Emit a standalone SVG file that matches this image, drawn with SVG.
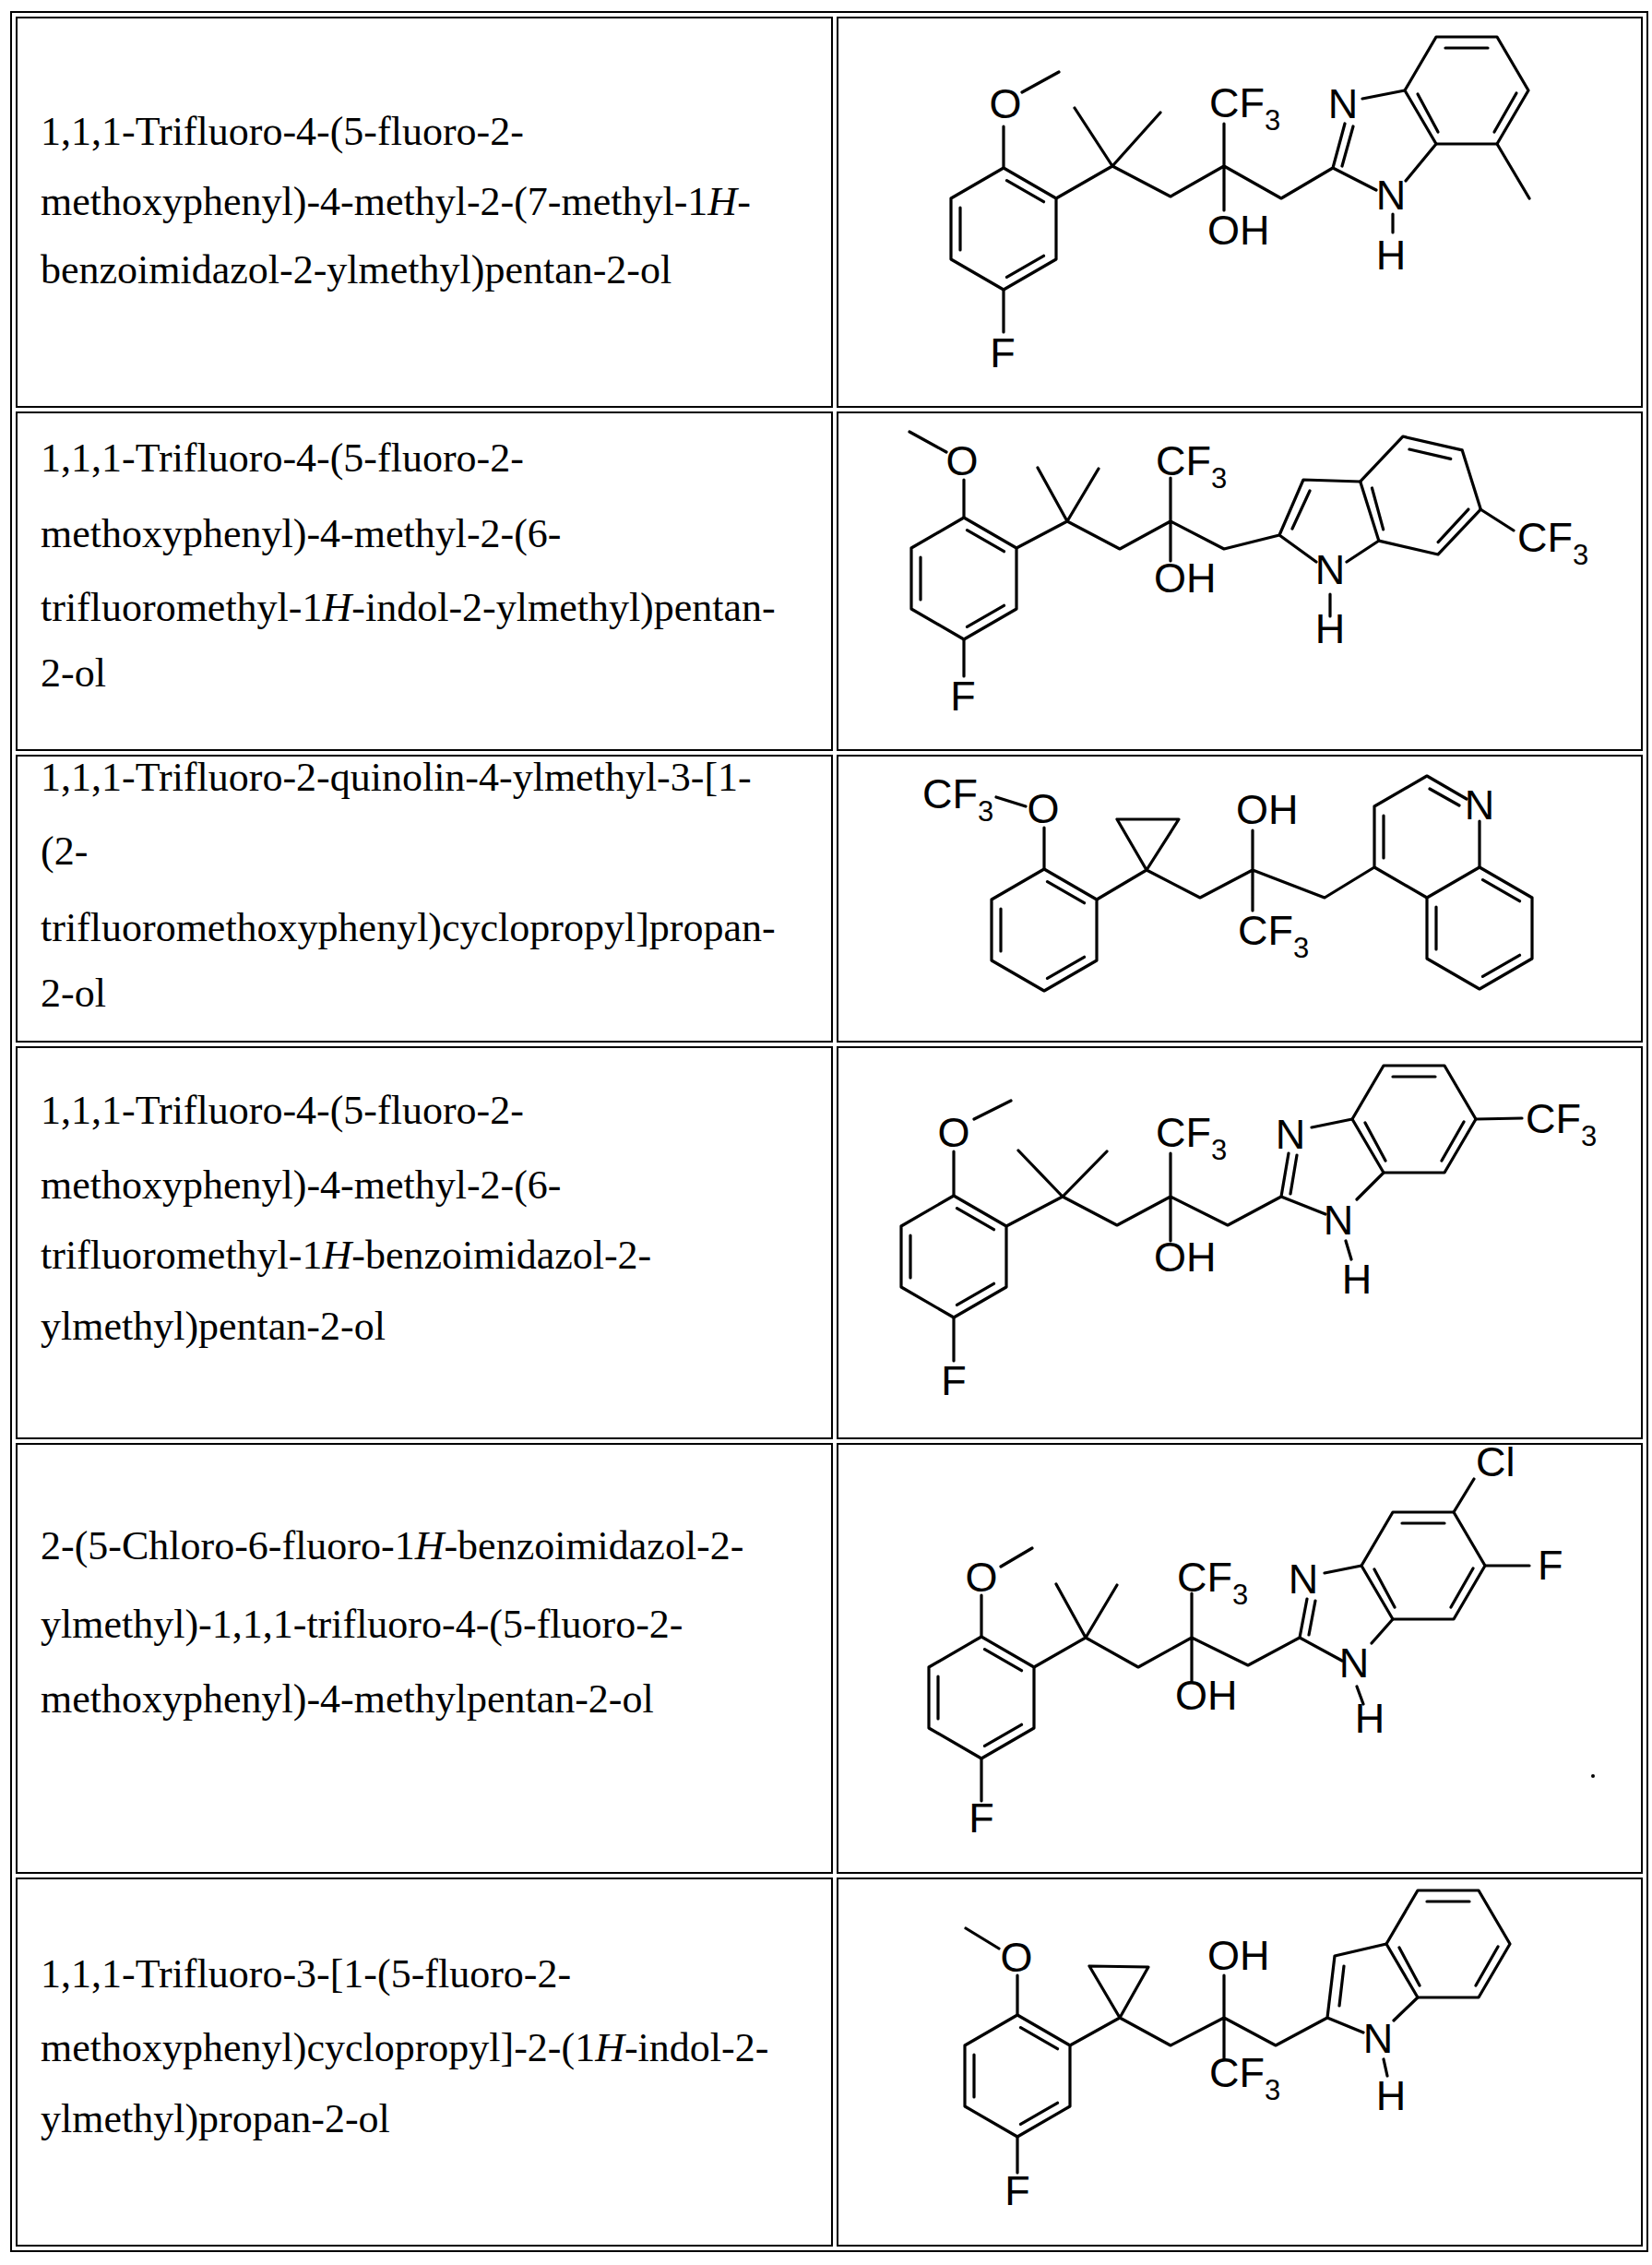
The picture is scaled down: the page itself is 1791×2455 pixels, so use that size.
<svg xmlns="http://www.w3.org/2000/svg" width="1791" height="2455" viewBox="0 0 1791 2455">
<style>
.b{fill:none;stroke:#000;stroke-width:3.2;stroke-linecap:round;stroke-linejoin:round}
.cell{fill:none;stroke:#000;stroke-width:2}
.n{font-family:"Liberation Serif","Times New Roman",serif;font-size:44px;fill:#000}
.a{font-family:"Liberation Sans",Arial,sans-serif;font-size:45px;fill:#000}
.m{text-anchor:middle}
.s{font-size:31px}
</style>
<defs>
<g id="ph" class="b"><polygon points="0,-66 57,-33 57,33 0,66 -57,33 -57,-33"/><path d="M3.5,-52.4L43.5,-29.3M-47,-23L-47,23M3.5,52.4L43.5,29.3"/></g>
<g id="bz" class="b"><polygon points="-67,0 -33,-58 33,-58 67,0 33,58 -33,58"/><path d="M-23,-46L23,-46M54,3L30,45M-53,4L-31,45"/></g>
</defs>
<rect width="1791" height="2455" fill="#fff"/>
<g id="table">
<rect class="cell" x="12" y="13" width="1774" height="2427"/>
<rect class="cell" x="18" y="19" width="884" height="422"/><rect class="cell" x="908" y="19" width="872" height="422"/>
<rect class="cell" x="18" y="447" width="884" height="366"/><rect class="cell" x="908" y="447" width="872" height="366"/>
<rect class="cell" x="18" y="819" width="884" height="310"/><rect class="cell" x="908" y="819" width="872" height="310"/>
<rect class="cell" x="18" y="1135" width="884" height="424"/><rect class="cell" x="908" y="1135" width="872" height="424"/>
<rect class="cell" x="18" y="1565" width="884" height="465"/><rect class="cell" x="908" y="1565" width="872" height="465"/>
<rect class="cell" x="18" y="2036" width="884" height="398"/><rect class="cell" x="908" y="2036" width="872" height="398"/>
</g>
<g id="names" class="n">
<text x="44" y="157">1,1,1-Trifluoro-4-(5-fluoro-2-</text>
<text x="44" y="233">methoxyphenyl)-4-methyl-2-(7-methyl-1<tspan font-style="italic">H</tspan>-</text>
<text x="44" y="307">benzoimidazol-2-ylmethyl)pentan-2-ol</text>
<text x="44" y="511">1,1,1-Trifluoro-4-(5-fluoro-2-</text>
<text x="44" y="593">methoxyphenyl)-4-methyl-2-(6-</text>
<text x="44" y="673">trifluoromethyl-1<tspan font-style="italic">H</tspan>-indol-2-ylmethyl)pentan-</text>
<text x="44" y="744">2-ol</text>
<text x="44" y="857">1,1,1-Trifluoro-2-quinolin-4-ylmethyl-3-[1-</text>
<text x="44" y="937">(2-</text>
<text x="44" y="1020">trifluoromethoxyphenyl)cyclopropyl]propan-</text>
<text x="44" y="1091">2-ol</text>
<text x="44" y="1218">1,1,1-Trifluoro-4-(5-fluoro-2-</text>
<text x="44" y="1299">methoxyphenyl)-4-methyl-2-(6-</text>
<text x="44" y="1375">trifluoromethyl-1<tspan font-style="italic">H</tspan>-benzoimidazol-2-</text>
<text x="44" y="1452">ylmethyl)pentan-2-ol</text>
<text x="44" y="1690">2-(5-Chloro-6-fluoro-1<tspan font-style="italic">H</tspan>-benzoimidazol-2-</text>
<text x="44" y="1775">ylmethyl)-1,1,1-trifluoro-4-(5-fluoro-2-</text>
<text x="44" y="1856">methoxyphenyl)-4-methylpentan-2-ol</text>
<text x="44" y="2154">1,1,1-Trifluoro-3-[1-(5-fluoro-2-</text>
<text x="44" y="2234">methoxyphenyl)cyclopropyl]-2-(1<tspan font-style="italic">H</tspan>-indol-2-</text>
<text x="44" y="2311">ylmethyl)propan-2-ol</text>
</g>
<g id="mol1">
<use href="#ph" x="1088" y="248"/><use href="#bz" x="1590" y="98"/>
<path class="b" d="M1088,182L1088,137M1108,100L1148,78M1088,314L1088,360M1145,215L1206,180L1269,213L1327,180L1389,215L1445,182M1206,180L1165,117M1206,180L1258,122M1327,180L1327,134M1327,180L1327,228M1445,182L1458,134M1455,180L1467,137M1445,182L1492,206M1510,232L1510,252M1524,196L1557,156M1477,107L1523,98M1623,156L1658,215"/>
<g class="a"><text class="m" x="1090" y="128">O</text><text class="m" x="1087" y="398">F</text><text x="1311" y="127">CF<tspan class="s" dy="14">3</tspan></text><text x="1309" y="265">OH</text><text class="m" x="1456" y="128">N</text><text class="m" x="1508" y="227">N</text><text class="m" x="1508" y="292">H</text></g>
</g>
<g id="mol2">
<use href="#ph" x="1045" y="627"/><use href="#bz" transform="translate(1540,537) rotate(13)"/>
<path class="b" d="M1045,561L1045,520M1026,490L986,468M1045,693L1045,733M1102,594L1157,565L1214,595L1269,565L1327,595L1387,580M1157,565L1125,507M1157,565L1191,508M1269,565L1269,518M1269,565L1269,608M1387,580L1413,520L1475,522M1401,573L1420,532M1387,580L1427,609M1495,586L1460,609M1442,644L1442,668M1605,552L1641,575"/>
<g class="a"><text class="m" x="1043" y="515">O</text><text class="m" x="1044" y="770">F</text><text x="1253" y="515">CF<tspan class="s" dy="14">3</tspan></text><text x="1251" y="642">OH</text><text class="m" x="1442" y="633">N</text><text class="m" x="1442" y="697">H</text><text x="1645" y="598">CF<tspan class="s" dy="14">3</tspan></text></g>
</g>
<g id="mol3">
<use href="#ph" x="1132" y="1008"/><use href="#ph" x="1604" y="1006"/>
<path class="b" d="M1132,942L1132,897M1080,864L1112,874M1189,975L1243,943M1243,943L1211,888L1278,888Z M1243,943L1301,973L1358,943L1436,973L1490,940L1547,973M1358,943L1358,900M1358,943L1358,987M1490,940L1490,874L1547,841L1590,866M1604,890L1604,940M1500,884L1500,930M1550,855L1582,873"/>
<g class="a"><text x="1000" y="876">CF<tspan class="s" dy="14">3</tspan></text><text class="m" x="1131" y="892">O</text><text x="1340" y="893">OH</text><text x="1342" y="1024">CF<tspan class="s" dy="14">3</tspan></text><text class="m" x="1604" y="888">N</text></g>
</g>
<g id="mol4">
<use href="#ph" x="1034" y="1362"/><use href="#bz" x="1533" y="1213"/>
<path class="b" d="M1034,1296L1034,1248M1056,1213L1096,1193M1034,1428L1034,1475M1091,1329L1152,1297L1211,1328L1269,1297L1331,1328L1389,1297M1152,1297L1104,1247M1152,1297L1200,1248M1269,1297L1269,1250M1269,1297L1269,1345M1389,1297L1397,1250M1399,1294L1406,1252M1422,1222L1466,1213M1389,1297L1437,1316M1471,1300L1500,1271M1459,1345L1465,1365M1600,1213L1650,1212"/>
<g class="a"><text class="m" x="1034" y="1243">O</text><text class="m" x="1034" y="1512">F</text><text x="1253" y="1243">CF<tspan class="s" dy="14">3</tspan></text><text x="1251" y="1378">OH</text><text class="m" x="1399" y="1245">N</text><text class="m" x="1451" y="1338">N</text><text class="m" x="1471" y="1402">H</text><text x="1654" y="1228">CF<tspan class="s" dy="14">3</tspan></text></g>
</g>
<g id="mol5">
<use href="#ph" x="1064" y="1840"/><use href="#bz" x="1543" y="1697"/>
<path class="b" d="M1064,1774L1064,1729M1085,1698L1119,1678M1064,1906L1064,1952M1121,1807L1177,1775L1234,1807L1292,1775L1353,1805L1409,1775M1177,1775L1145,1717M1177,1775L1211,1718M1292,1775L1292,1727M1292,1775L1292,1822M1409,1775L1417,1733M1419,1772L1426,1735M1436,1705L1476,1697M1409,1775L1455,1800M1487,1781L1510,1755M1471,1828L1478,1847M1576,1639L1598,1603M1610,1697L1658,1697"/>
<g class="a"><text class="m" x="1064" y="1725">O</text><text class="m" x="1064" y="1986">F</text><text x="1276" y="1725">CF<tspan class="s" dy="14">3</tspan></text><text x="1274" y="1853">OH</text><text class="m" x="1413" y="1727">N</text><text class="m" x="1468" y="1818">N</text><text class="m" x="1485" y="1878">H</text><text x="1600" y="1600">Cl</text><text x="1667" y="1712">F</text></g>
<circle cx="1727" cy="1925" r="2" fill="#000"/>
</g>
<g id="mol6">
<use href="#ph" x="1103" y="2250"/><use href="#bz" x="1570" y="2107"/>
<path class="b" d="M1103,2184L1103,2141M1083,2112L1047,2090M1103,2316L1103,2355M1160,2217L1214,2187M1214,2187L1181,2131L1245,2132Z M1214,2187L1269,2217L1327,2187L1383,2217L1439,2187M1327,2187L1327,2141M1327,2187L1327,2232M1439,2187L1447,2120L1503,2107M1457,2131L1452,2174M1439,2187L1478,2203M1511,2190L1537,2165M1500,2232L1504,2250"/>
<g class="a"><text class="m" x="1102" y="2137">O</text><text class="m" x="1103" y="2390">F</text><text x="1309" y="2135">OH</text><text x="1311" y="2262">CF<tspan class="s" dy="14">3</tspan></text><text class="m" x="1494" y="2225">N</text><text class="m" x="1508" y="2287">H</text></g>
</g>
</svg>
